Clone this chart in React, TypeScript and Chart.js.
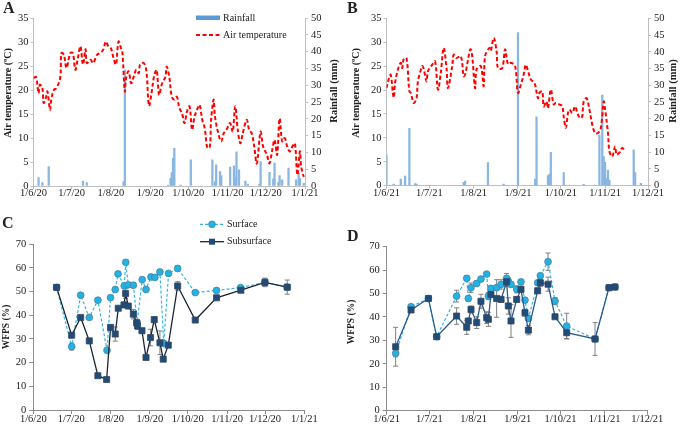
import React, { useEffect, useRef } from 'react';
import { Chart, registerables } from 'chart.js';
Chart.register(...registerables);

const W = 685;
const H = 425;
const SERIF = '"Liberation Serif", "Times New Roman", serif';

// ---- axis ticks ----
const monthDays = [0, 30, 61, 92, 122, 153, 183, 214];
const ticks2020 = ['1/6/20', '1/7/20', '1/8/20', '1/9/20', '1/10/20', '1/11/20', '1/12/20', '1/1/21'];
const ticks2021 = ['1/6/21', '1/7/21', '1/8/21', '1/9/21', '1/10/21', '1/11/21', '1/12/21'];

// ---- Panel A (2020): [day since 1 June, value] ----
const tempA: [number, number][] = [
  [0, 22.5], [2, 22.7], [4, 19.3], [5, 21.1], [7, 20.4], [8, 17.3], [10, 18.6], [11, 19.7], [13, 15.9], [14, 18],
  [16, 20], [18, 20.4], [21, 22.5], [22, 27.7], [24, 27.3], [26, 24.6], [29, 27.7], [31, 27.7], [33, 24.2], [35, 26.7],
  [37, 29.1], [39, 25.3], [41, 28.5], [42, 25.6], [45, 26.3], [47, 25.6], [50, 27.3], [53, 27.8], [55, 28.4], [57, 30.1],
  [59, 29.1], [61, 28.7], [63, 26.7], [65, 25.3], [67, 30.1], [69, 28.7], [70, 28], [72, 19.7], [73, 22.5], [75, 23.9],
  [77, 21.4], [79, 22.8], [81, 24.2], [83, 23.5], [84, 25.3], [87, 25.6], [89, 23.9], [91, 16.7], [93, 19.3], [95, 22.8],
  [97, 24.2], [99, 19], [101, 21.1], [104, 22.8], [105, 24.9], [107, 22.8], [109, 18.6], [111, 18], [113, 18.6], [115, 16.2],
  [117, 15.2], [119, 13.1], [121, 15.5], [123, 16.6], [125, 11.7], [127, 14.5], [130, 16.6], [131, 16.9], [133, 13.8], [135, 12],
  [137, 7.9], [139, 8.2], [140, 13.8], [142, 18], [143, 14.5], [146, 10.6], [148, 9.3], [150, 11], [152, 11.7], [155, 13.1],
  [157, 11.3], [159, 16.6], [161, 11.7], [163, 8.9], [165, 11], [168, 13.8], [170, 11.7], [172, 11], [174, 8.2], [176, 4.7],
  [179, 11.3], [181, 8.2], [184, 6.5], [186, 4.7], [188, 7.2], [190, 9.6], [192, 6.5], [194, 14.1], [196, 9.3], [198, 10],
  [200, 8.2], [202, 7.2], [204, 8.2], [206, 8.9], [208, 2.3], [210, 7.2], [211, 4], [213, 1.9],
];
const rainA: [number, number][] = [
  [4, 2.5], [7, 1], [12, 5.8], [39, 1.5], [42, 1], [71, 1.3], [72, 34.5], [106, 0.3], [108, 2.3], [109, 4],
  [110, 8.2], [111, 11.2], [116, 0.3], [124, 7.8], [141, 7.8], [143, 1.3], [144, 6.3], [147, 4.3], [148, 3.1], [155, 5.6],
  [158, 6], [159, 2.5], [160, 10.2], [162, 4.8], [167, 1.5], [169, 0.6], [178, 0.6], [179, 7.3], [186, 4.1], [189, 2.1],
  [190, 6.8], [193, 1], [194, 3.1], [196, 1.8], [201, 5.3], [207, 1.8], [209, 3.8], [210, 2.3], [213, 0.8],
];

// ---- Panel B (2021) ----
const tempB: [number, number][] = [
  [0, 20.4], [2, 22.8], [3, 23.2], [5, 18.4], [6, 21.5], [8, 24.3], [10, 25.7], [11, 24.6], [12, 26.4], [14, 26.7],
  [16, 19.7], [17, 19.4], [19, 17.3], [21, 18.3], [22, 21.8], [25, 25], [26, 24.5], [28, 21.8], [29, 23.9], [32, 25.3],
  [34, 26], [36, 20.1], [38, 23.6], [40, 28.8], [42, 24.6], [43, 20.4], [46, 25], [47, 27.4], [49, 26.7], [52, 27.1],
  [54, 22.9], [55, 23.2], [59, 28.5], [62, 20.4], [63, 24.3], [66, 25], [68, 20.8], [69, 27.1], [72, 28.8], [73, 28.2],
  [75, 30.9], [77, 28.2], [78, 24.6], [81, 24.6], [83, 28.5], [85, 25.4], [87, 25.7], [90, 25], [92, 19.4], [94, 21.1],
  [96, 23.2], [97.5, 25.3], [99, 24], [101, 22.2], [103, 21.7], [104, 21.1], [106, 18.3], [107, 19.4], [109, 19.7], [110, 16.6],
  [112, 17.6], [113, 16.2], [115, 20.1], [117, 17], [118.5, 17.3], [121, 17], [123, 16.6], [124, 14.5], [125.5, 12.1], [127, 15.2],
  [128, 15.9], [130, 15.2], [132, 16.6], [134, 14.8], [136, 14.1], [137, 14.5], [138, 17.6], [140, 18.3], [142, 15.9], [144, 12.8],
  [146, 11], [148, 11], [150, 12.1], [152, 17.6], [153, 15.9], [155, 11], [156, 7.2], [158, 6.1], [160, 8.2], [161, 6.5],
  [163, 6.9], [165, 7.9], [167, 7.2],
];
const rainB: [number, number][] = [
  [0, 9.2], [5, 0.5], [10, 2], [13, 2.9], [16, 17.1], [20, 0.6], [21, 0.5], [54, 1], [55, 1.4], [71, 6.9],
  [82, 0.5], [92, 45.7], [104, 2], [105, 20.6], [113, 3], [114, 3.5], [115, 10], [124, 3.9], [138, 0.4], [149, 15.1],
  [151, 27.1], [152, 8.7], [153, 7], [154, 2.2], [155, 4.7], [156, 1.7], [173, 10.7], [174, 3.9], [178, 0.7],
];

// ---- Panel C (2020 WFPS): [day, mean, error] ----
const surfC: [number, number, number][] = [
  [18.4, 51.8, 0.5], [30.3, 26.8, 1.5], [37.4, 48.5, 0.8], [44.2, 39.1, 0.8], [51, 46.4, 0.8], [58.2, 25.2, 0.8],
  [61, 47.5, 0.8], [64.7, 50.9, 0.8], [66.9, 57.5, 0.8], [71.8, 52.4, 0.8], [73, 62.4, 0.8], [75, 52.9, 0.8],
  [79, 52.7, 0.8], [82, 37, 0.8], [86, 55.1, 0.8], [89, 50.9, 0.8], [92.9, 56.2, 0.8], [96, 56, 0.8],
  [100, 58.3, 1], [103, 28.1, 1], [106.8, 57.7, 0.8], [114, 59.8, 1], [127.9, 49.6, 0.8], [144.7, 50.5, 0.8],
  [163.7, 51.7, 0.8], [182.9, 53.9, 1.5], [200.5, 51.9, 1],
];
const subC: [number, number, number][] = [
  [18.4, 51.8, 0.5], [30.3, 31.6, 1], [37.4, 39.1, 0.5], [44.2, 29.2, 0.5], [51, 14.5, 0.5], [57.9, 12.9, 0.5],
  [61, 34.9, 0.5], [64.7, 32.1, 3], [67.1, 43, 0.5], [71.6, 44.4, 1], [72.9, 49.2, 2], [75, 43.9, 1],
  [79, 40.5, 2], [81.6, 36.8, 1.5], [82.3, 35.5, 1.5], [85.8, 33.5, 1], [89, 22.2, 0.5], [92.6, 30.6, 3.5],
  [95.5, 38.2, 1], [100, 28.4, 5], [102.6, 21.5, 0.5], [106.6, 27.4, 1], [114, 52.4, 1.8], [127.9, 38, 0.5],
  [144.7, 47.4, 0.5], [163.9, 50.6, 1], [182.9, 53.9, 1.8], [200.5, 51.9, 3],
];

// ---- Panel D (2021 WFPS) ----
const surfD: [number, number, number][] = [
  [6.3, 24.5, 1.5], [17.1, 44.4, 0.5], [29.3, 47.9, 0.5], [35.1, 31.6, 0.5], [49.1, 48.9, 2.5], [56.2, 56.5, 1],
  [57.3, 47.9, 1], [59.2, 52.5, 2], [63.2, 54.3, 1], [66.2, 56.2, 1], [70.2, 58.3, 0.5], [71.4, 48.9, 1.5],
  [73.2, 52.2, 1], [77.2, 52.5, 1], [80.3, 53.9, 2], [84.2, 56.5, 2], [85.4, 55.3, 1.5], [87.3, 53.9, 1],
  [91.3, 51.8, 1.5], [94.3, 55, 1], [97.1, 47.2, 1], [99.5, 39.4, 1], [106, 54.6, 1], [107.9, 57.6, 1],
  [113.3, 63.6, 3.7], [118.2, 46.8, 1.5], [126.4, 36.1, 5.5], [146.3, 30.6, 0.5], [156.1, 52.5, 0.5], [160.3, 52.8, 0.5],
];
const subD: [number, number, number][] = [
  [6.3, 27.3, 8.3], [17.1, 43, 1], [29.3, 47.9, 0.5], [35.1, 31.6, 0.5], [49.1, 40.4, 3.5], [56.2, 35.6, 3],
  [57.3, 38.3, 1], [59.2, 43.2, 1.5], [63.2, 37.6, 2.5], [66.2, 46.7, 3], [70.2, 39.7, 2.5], [71.4, 39, 3],
  [73.2, 49.6, 1], [77.2, 47.9, 8], [80.3, 47.5, 1], [84.2, 55, 2], [85.4, 44.7, 3.5], [87.3, 38.3, 7],
  [91.3, 47.5, 1], [94.3, 51.8, 1], [97.1, 41.8, 1.5], [99.5, 34.4, 2], [106, 51.2, 1], [107.9, 54.6, 1.5],
  [113.3, 54, 3], [118.2, 40.1, 0.5], [126.4, 33.3, 2.5], [146.3, 30.6, 7], [156.1, 52.5, 0.5], [160.3, 52.8, 0.5],
];

// ---- helpers ----
const TXT = '#222';
const tickFont = { family: SERIF, size: 10.5 };

function xScale(labels: string[], max: number, tickLen: number, pad: number, height: number, color: string) {
  return {
    type: 'linear',
    min: 0,
    max,
    offset: false,
    grid: { drawOnChartArea: false, drawTicks: true, tickLength: tickLen, color, offset: false },
    border: { display: true, color, width: 1 },
    afterBuildTicks: (s: any) => {
      s.ticks = monthDays.slice(0, labels.length).map((v) => ({ value: v }));
    },
    ticks: {
      autoSkip: false,
      maxRotation: 0,
      minRotation: 0,
      padding: pad,
      color: TXT,
      font: tickFont,
      callback: (v: number) => {
        const i = monthDays.indexOf(v);
        return i >= 0 ? labels[i] : '';
      },
    },
    afterFit: (s: any) => {
      s.height = height;
    },
  };
}

function yScale(pos: string, max: number, step: number, tickLen: number, pad: number, width: number, color: string) {
  return {
    type: 'linear',
    position: pos,
    min: 0,
    max,
    grid: { drawOnChartArea: false, drawTicks: true, tickLength: tickLen, color },
    border: { display: true, color, width: 1 },
    ticks: { stepSize: step, padding: pad, color: TXT, font: tickFont, autoSkip: false },
    afterFit: (s: any) => {
      s.width = width;
    },
  };
}

function text(ctx: CanvasRenderingContext2D, s: string, x: number, y: number, font: string, align: CanvasTextAlign = 'left', rot = 0) {
  ctx.save();
  ctx.translate(x, y);
  if (rot) ctx.rotate(rot);
  ctx.font = font;
  ctx.fillStyle = TXT;
  ctx.textAlign = align;
  ctx.textBaseline = 'middle';
  ctx.fillText(s, 0, 0);
  ctx.restore();
}

const overlay = (draw: (ctx: CanvasRenderingContext2D, chart: any) => void) => ({
  id: 'overlay',
  afterDraw(chart: any) {
    const ctx = chart.ctx;
    ctx.save();
    draw(ctx, chart);
    ctx.restore();
  },
});

const errorBars = {
  id: 'errorBars',
  beforeDatasetsDraw(chart: any) {
    const ctx = chart.ctx;
    chart.data.datasets.forEach((ds: any, i: number) => {
      if (!ds.errs) return;
      const meta = chart.getDatasetMeta(i);
      const ys = chart.scales[ds.yAxisID || 'y'];
      ctx.save();
      ctx.strokeStyle = '#7f7f7f';
      ctx.lineWidth = 1;
      meta.data.forEach((pt: any, j: number) => {
        const e = ds.errs[j];
        if (!e) return;
        const v = ds.data[j].y;
        const y1 = ys.getPixelForValue(v + e);
        const y2 = ys.getPixelForValue(v - e);
        const x = pt.x;
        ctx.beginPath();
        ctx.moveTo(x, y1);
        ctx.lineTo(x, y2);
        ctx.moveTo(x - 2.5, y1);
        ctx.lineTo(x + 2.5, y1);
        ctx.moveTo(x - 2.5, y2);
        ctx.lineTo(x + 2.5, y2);
        ctx.stroke();
      });
      ctx.restore();
    });
  },
};

const BOLD = (px: number) => `bold ${px}px ${SERIF}`;
const REG = (px: number) => `${px}px ${SERIF}`;
const ROT = -Math.PI / 2;

const AXIS_AB = '#bfbfbf';
const AXIS_CD = '#8c8c8c';
const RED = '#ff0000';
const RAIN = '#8ab6e2';
const CYAN = '#21b2e6';
const NAVY = '#1f4c78';

function pad(L: number, R: number, T: number, B: number, WL: number, WR: number, HB: number) {
  return { left: L - WL, right: W - R - WR, top: T, bottom: H - B - HB };
}

function tempRainConfig(temp: [number, number][], rain: [number, number][], labels: string[], xmax: number, area: number[], letter: string, letterX: number, titleLX: number, titleRX: number, legend: boolean) {
  const [L, R, T, B] = area;
  return {
    type: 'bar',
    data: {
      datasets: [
        {
          type: 'line',
          label: 'Air temperature',
          data: temp.map(([x, y]) => ({ x, y })),
          yAxisID: 'y',
          borderColor: RED,
          borderWidth: 2,
          borderDash: [4, 2.5],
          pointRadius: 0,
          tension: 0.35,
          fill: false,
        },
        {
          type: 'bar',
          label: 'Rainfall',
          data: rain.map(([x, y]) => ({ x, y })),
          yAxisID: 'y1',
          backgroundColor: RAIN,
          barThickness: 1.6,
        },
      ],
    },
    options: {
      responsive: false,
      animation: false,
      events: [],
      layout: { padding: pad(L, R, T, B, 26, 26, 14) },
      plugins: { legend: { display: false }, tooltip: { enabled: false } },
      scales: {
        x: xScale(labels, xmax, 3, -2, 14, AXIS_AB),
        y: yScale('left', 35, 5, 3, 2, 26, AXIS_AB),
        y1: yScale('right', 50, 5, 3, 3, 26, AXIS_AB),
      },
    },
    plugins: [
      overlay((ctx) => {
        text(ctx, letter, letterX, 9, BOLD(16));
        text(ctx, 'Air temperature (ºC)', titleLX, 93, BOLD(10), 'center', ROT);
        text(ctx, 'Rainfall (mm)', titleRX, 91, BOLD(10.5), 'center', ROT);
        if (legend) {
          ctx.fillStyle = '#5b9bd5';
          ctx.fillRect(196, 15.5, 24, 4.5);
          text(ctx, 'Rainfall', 223, 18, REG(10));
          ctx.strokeStyle = RED;
          ctx.lineWidth = 2;
          ctx.setLineDash([4, 2.5]);
          ctx.beginPath();
          ctx.moveTo(196, 35);
          ctx.lineTo(220, 35);
          ctx.stroke();
          ctx.setLineDash([]);
          text(ctx, 'Air temperature', 223, 35, REG(10));
        }
      }),
    ],
  };
}

function wfpsConfig(surf: [number, number, number][], sub: [number, number, number][], labels: string[], xmax: number, area: number[], letter: string, letterX: number, letterY: number, titleX: number, titleY: number, subLine: string, legend: boolean) {
  const [L, R, T, B] = area;
  return {
    type: 'line',
    data: {
      datasets: [
        {
          label: 'Subsurface',
          data: sub.map(([x, y]) => ({ x, y })),
          errs: sub.map((d) => d[2]),
          borderColor: subLine,
          borderWidth: 1.3,
          pointStyle: 'rect',
          pointRadius: 4.3,
          pointBackgroundColor: NAVY,
          pointBorderColor: '#34465e',
          pointBorderWidth: 0.8,
          tension: 0,
        },
        {
          label: 'Surface',
          data: surf.map(([x, y]) => ({ x, y })),
          errs: surf.map((d) => d[2]),
          borderColor: '#37b4e6',
          borderWidth: 1.2,
          borderDash: [3, 2],
          pointStyle: 'circle',
          pointRadius: 3.4,
          pointBackgroundColor: CYAN,
          pointBorderColor: '#4f8199',
          pointBorderWidth: 0.8,
          tension: 0,
        },
      ],
    },
    options: {
      responsive: false,
      animation: false,
      events: [],
      layout: { padding: pad(L, R, T, B, 26, 0, 12) },
      plugins: { legend: { display: false }, tooltip: { enabled: false } },
      scales: {
        x: xScale(labels, xmax, 4, -1.5, 12, AXIS_CD),
        y: yScale('left', 70, 10, 4, 3, 26, AXIS_CD),
      },
    },
    plugins: [
      errorBars,
      overlay((ctx) => {
        text(ctx, letter, letterX, letterY, BOLD(16));
        text(ctx, 'WFPS (%)', titleX, titleY, BOLD(9.5), 'center', ROT);
        if (legend) {
          ctx.strokeStyle = '#37b4e6';
          ctx.lineWidth = 1.2;
          ctx.setLineDash([3, 2]);
          ctx.beginPath();
          ctx.moveTo(200, 224.3);
          ctx.lineTo(224, 224.3);
          ctx.stroke();
          ctx.setLineDash([]);
          ctx.fillStyle = CYAN;
          ctx.strokeStyle = '#4f8199';
          ctx.lineWidth = 0.8;
          ctx.beginPath();
          ctx.arc(212, 224.3, 3.4, 0, Math.PI * 2);
          ctx.fill();
          ctx.stroke();
          text(ctx, 'Surface', 227, 224.3, REG(10));
          ctx.strokeStyle = subLine;
          ctx.lineWidth = 1.3;
          ctx.beginPath();
          ctx.moveTo(200, 241.7);
          ctx.lineTo(224, 241.7);
          ctx.stroke();
          ctx.fillStyle = NAVY;
          ctx.fillRect(209, 238.7, 6, 6);
          text(ctx, 'Subsurface', 227, 241.7, REG(10));
        }
      }),
    ],
  };
}

function ChartCanvas({ make }: { make: () => any }) {
  const ref = useRef<HTMLCanvasElement | null>(null);
  useEffect(() => {
    if (!ref.current) return;
    const chart = new Chart(ref.current, make());
    return () => chart.destroy();
  }, []);
  return <canvas ref={ref} width={W} height={H} style={{ position: 'absolute', left: 0, top: 0, width: W, height: H }} />;
}

export default function App() {
  return (
    <div style={{ position: 'absolute', left: 0, top: 0, width: W, height: H, background: '#fff', overflow: 'hidden' }}>
      <ChartCanvas make={() => tempRainConfig(tempA, rainA, ticks2020, 214, [33.5, 305, 18, 186], 'A', 3, 8.5, 334, true)} />
      <ChartCanvas make={() => tempRainConfig(tempB, rainB, ticks2021, 183, [386.5, 648, 18.3, 185.7], 'B', 347, 356.5, 673, false)} />
      <ChartCanvas make={() => wfpsConfig(surfC, subC, ticks2020, 214, [33.3, 304.3, 244.3, 410], 'C', 2, 223.5, 7, 327, '#1b2433', true)} />
      <ChartCanvas make={() => wfpsConfig(surfD, subD, ticks2021, 183, [386.7, 647.3, 246.7, 410.7], 'D', 347, 236.5, 352, 322, '#2a5a8e', false)} />
    </div>
  );
}
